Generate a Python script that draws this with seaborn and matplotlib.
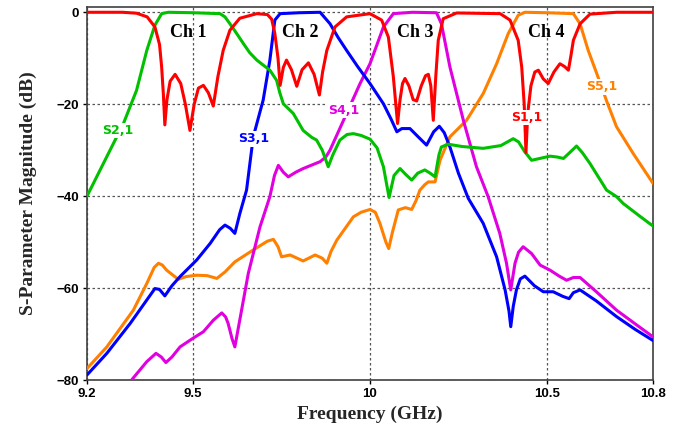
import pandas as pd
import matplotlib
matplotlib.use("Agg")
import matplotlib.pyplot as plt
import seaborn as sns

# S1,1 (red)
s11_f = [9.20, 9.30, 9.34, 9.37, 9.392, 9.405, 9.411, 9.416, 9.420, 9.426, 9.435, 9.449, 9.465, 9.478,
         9.491, 9.503, 9.515, 9.529, 9.543, 9.557, 9.570, 9.585, 9.604, 9.632, 9.680, 9.710, 9.722,
         9.731, 9.740, 9.746, 9.755, 9.764, 9.778, 9.793, 9.808, 9.826, 9.842, 9.857, 9.866, 9.878,
         9.901, 9.934, 10.0, 10.033, 10.052, 10.066, 10.073, 10.078, 10.085, 10.092, 10.099, 10.110,
         10.122, 10.132, 10.145, 10.157, 10.165, 10.172, 10.179, 10.186, 10.193, 10.207, 10.245,
         10.368, 10.396, 10.419, 10.429, 10.436, 10.441, 10.446, 10.455, 10.466, 10.476, 10.490,
         10.504, 10.520, 10.537, 10.550, 10.561, 10.568, 10.575, 10.594, 10.622, 10.697, 10.80]
s11_db = [0, 0, -0.2, -1.0, -3.2, -7, -11.9, -18, -24.5, -19, -15, -13.5, -15.5, -20,
          -25.7, -20, -16.5, -15.9, -17.5, -20.4, -14, -8.3, -3.9, -1.3, -0.3, -0.5, -1.5,
          -4.6, -10, -15.9, -12, -10.4, -12.5, -16.1, -12.5, -11.0, -13.5, -18.0, -13, -8.3,
          -3.2, -1.0, -0.3, -1.7, -5.4, -14, -20, -24.2, -19, -15.5, -14.4, -16,
          -19, -19.3, -16, -13.8, -13.5, -16, -23.5, -14, -6.1, -1.4, -0.15,
          -0.3, -1.7, -6.1, -11.9, -20, -30.5, -22, -16, -13, -12.6, -14.5,
          -15.5, -13, -11.2, -11.8, -12.6, -9.5, -6.1, -2.5, -0.4, 0, 0]

# S2,1 (green)
s21_f = [9.20, 9.256, 9.303, 9.340, 9.369, 9.392, 9.411, 9.43, 9.50, 9.576, 9.590, 9.604, 9.622,
         9.642, 9.660, 9.680, 9.700, 9.717, 9.736, 9.745, 9.755, 9.783, 9.811, 9.835, 9.849, 9.865,
         9.882, 9.895, 9.915, 9.935, 9.953, 9.975, 10.0, 10.02, 10.038, 10.054, 10.068, 10.085,
         10.100, 10.118, 10.135, 10.155, 10.170, 10.184, 10.195, 10.202, 10.221, 10.26, 10.320,
         10.37, 10.405, 10.420, 10.438, 10.457, 10.480, 10.509, 10.530, 10.547, 10.565, 10.584,
         10.600, 10.622, 10.669, 10.697, 10.716, 10.76, 10.80]
s21_db = [-40.0, -31.4, -24.2, -17.0, -8.3, -2.8, -0.3, 0, -0.1, -0.3, -1.0, -2.5, -4.5,
          -6.8, -8.8, -10.4, -11.6, -12.6, -14.8, -17.5, -19.9, -22.0, -25.7, -27.2, -27.8, -30,
          -33.6, -31, -27.8, -26.6, -26.4, -26.8, -27.6, -29.5, -33.6, -40.3, -35.5, -34.0,
          -35.2, -36.5, -35, -34.3, -35, -35.8, -31, -29.3, -28.7, -29.2, -29.6,
          -29, -27.5, -28.2, -30.4, -32.2, -31.8, -31.3, -31.5, -31.8, -30.5, -29.1,
          -30.5, -32.9, -38.7, -40.1, -41.6, -44.2, -46.5]

# S3,1 (blue)
s31_f = [9.20, 9.256, 9.322, 9.392, 9.405, 9.420, 9.440, 9.463, 9.510, 9.548, 9.575, 9.590, 9.605,
         9.618, 9.632, 9.651, 9.670, 9.698, 9.717, 9.731, 9.746, 9.80, 9.859, 9.887, 9.910, 9.934,
         9.965, 10.0, 10.038, 10.060, 10.076, 10.090, 10.113, 10.135, 10.160, 10.180, 10.196,
         10.210, 10.226, 10.250, 10.278, 10.320, 10.358, 10.382, 10.393, 10.398, 10.405, 10.414,
         10.425, 10.438, 10.465, 10.490, 10.518, 10.545, 10.563, 10.575, 10.594, 10.64, 10.697,
         10.75, 10.80]
s31_db = [-78.9, -74.2, -67.7, -60.1, -60.3, -61.7, -59.5, -57.5, -53.9, -50.3, -47.3, -46.3, -47,
          -48.1, -43.8, -38.7, -27.1, -19.1, -10.4, -1.7, -0.3, -0.1, 0, -2.5, -5.5, -8.3,
          -11.8, -15.5, -19.9, -23.3, -26.0, -25.3, -25.3, -27, -28.9, -26, -24.8,
          -26.2, -29.3, -35, -40.5, -45.9, -53.2, -60.4, -65, -68.4, -64, -60.4,
          -58, -57.4, -59.5, -60.8, -60.8, -61.8, -62.3, -61, -60.4, -62.8, -66.2,
          -69, -71.4]

# S4,1 (magenta)
s41_f = [9.326, 9.369, 9.395, 9.410, 9.423, 9.440, 9.463, 9.500, 9.529, 9.557, 9.581, 9.592, 9.599,
         9.610, 9.618, 9.627, 9.637, 9.656, 9.689, 9.717, 9.730, 9.741, 9.755, 9.769, 9.790, 9.811,
         9.859, 9.875, 9.887, 9.934, 9.972, 10.0, 10.020, 10.038, 10.066, 10.12, 10.188, 10.202,
         10.226, 10.264, 10.301, 10.334, 10.367, 10.386, 10.398, 10.410, 10.420, 10.433, 10.457,
         10.481, 10.509, 10.535, 10.556, 10.575, 10.594, 10.64, 10.697, 10.75, 10.80]
s41_db = [-80, -76.0, -74.2, -75, -76.2, -75, -72.8, -70.9, -69.5, -67.0, -65.4, -66.3, -67.7,
          -71, -72.8, -69, -64.8, -56.8, -46.7, -40.1, -35.5, -33.3, -34.8, -35.8, -34.8, -34.0,
          -32.5, -31.5, -30.0, -22.0, -15.5, -11.2, -7, -3.2, -0.3, 0, -0.1, -2.5,
          -11.9, -23.5, -33.6, -40.1, -48.1, -54.6, -60.4, -54.6, -52.2, -51.0, -52.5,
          -55.0, -56.1, -57.4, -58.3, -57.7, -57.7, -60.8, -64.8, -67.8, -70.6]

# S5,1 (orange)
s51_f = [9.20, 9.256, 9.331, 9.369, 9.390, 9.402, 9.413, 9.425, 9.458, 9.480, 9.510, 9.540, 9.567,
         9.590, 9.618, 9.670, 9.710, 9.727, 9.740, 9.750, 9.774, 9.811, 9.845, 9.865, 9.878, 9.890,
         9.906, 9.953, 9.975, 10.0, 10.015, 10.028, 10.045, 10.053, 10.063, 10.080, 10.100, 10.118,
         10.130, 10.141, 10.155, 10.165, 10.184, 10.198, 10.226, 10.273, 10.320, 10.358, 10.391,
         10.419, 10.438, 10.50, 10.575, 10.594, 10.617, 10.641, 10.670, 10.697, 10.744, 10.80]
s51_db = [-77.5, -72.8, -64.8, -59.0, -55.5, -54.6, -55, -56.1, -58.1, -57.5, -57.2, -57.3, -57.9,
          -56.5, -54.3, -51.7, -49.8, -49.4, -51, -53.2, -52.8, -54.1, -52.8, -53.5, -54.6, -52,
          -49.6, -44.5, -43.5, -42.9, -43.5, -45.9, -50, -51.4, -48, -43.0, -42.5, -42.9,
          -41, -38.7, -37.5, -36.9, -36.9, -32.2, -27.1, -23.5, -17.7, -11.2, -4.6,
          -0.65, 0, -0.1, -0.3, -2.5, -8.3, -13.3, -19.5, -24.9, -30.7, -37.2]

series_names = ["S5,1", "S4,1", "S3,1", "S2,1", "S1,1"]
series_colors = ["#ff8000", "#e000e0", "#0000ff", "#00c000", "#ff0000"]
series_data = [(s51_f, s51_db), (s41_f, s41_db), (s31_f, s31_db), (s21_f, s21_db), (s11_f, s11_db)]

# label positions (freq, dB)
label_pos = {"S1,1": (10.443, -22.9), "S2,1": (9.286, -25.7), "S3,1": (9.670, -27.5),
             "S4,1": (9.925, -21.3), "S5,1": (10.655, -16.2)}
ch_labels = ["Ch 1", "Ch 2", "Ch 3", "Ch 4"]
ch_freqs = [9.485, 9.802, 10.127, 10.499]

x_ticks = [9.2, 9.5, 10, 10.5, 10.8]
x_ticklabels = ["9.2", "9.5", "10", "10.5", "10.8"]
y_ticks = [0, -20, -40, -60, -80]

rows = []
for name, (f, db) in zip(series_names, series_data):
    for a, b in zip(f, db):
        rows.append({"series": name, "freq": a, "db": b})
df = pd.DataFrame(rows)

sns.set_style("ticks")
plt.rcParams["font.family"] = ["DejaVu Sans"]

fig = plt.figure(figsize=(6.83, 4.34), dpi=100)
ax = fig.add_axes([0.1274, 0.1244, 0.8286, 0.8595])

for i, (name, color) in enumerate(zip(series_names, series_colors)):
    sub = df[df["series"] == name]
    sns.lineplot(data=sub, x="freq", y="db", color=color, linewidth=2.2, sort=False,
                 estimator=None, ax=ax, zorder=3 + i)

for name, color in zip(series_names, series_colors):
    fx, fy = label_pos[name]
    ax.text(fx, fy, name, color=color, fontsize=9, fontweight="bold", family="DejaVu Sans",
            ha="center", va="center", zorder=20,
            bbox=dict(facecolor="white", edgecolor="none", pad=1.0))

for lab, fx in zip(ch_labels, ch_freqs):
    ax.text(fx, -4.5, lab, fontsize=13, fontweight="bold", family="Liberation Serif",
            ha="center", va="center", color="black", zorder=25)

ax.set_xlim(9.2, 10.8)
ax.set_ylim(-80, 1.15)
ax.set_xticks(x_ticks)
ax.set_xticklabels(x_ticklabels)
ax.set_yticks(y_ticks)
ax.grid(True, linestyle=(0, (2, 2)), color="#555555", linewidth=0.9)
for lab in ax.get_xticklabels() + ax.get_yticklabels():
    lab.set_family("Liberation Sans")
    lab.set_fontweight("bold")
    lab.set_fontsize(9.5)
ax.tick_params(direction="out", length=3, width=1, pad=3, colors="black")

for sp in ax.spines.values():
    sp.set_visible(True)
    sp.set_color("#404040")
    sp.set_linewidth(1.2)

ax.set_xlabel("Frequency (GHz)", fontsize=14, fontweight="bold", family="Liberation Serif", labelpad=4)
ax.set_ylabel("S-Parameter Magnitude (dB)", fontsize=14, fontweight="bold", family="Liberation Serif",
              labelpad=14)

fig.savefig("out.png", dpi=100)
